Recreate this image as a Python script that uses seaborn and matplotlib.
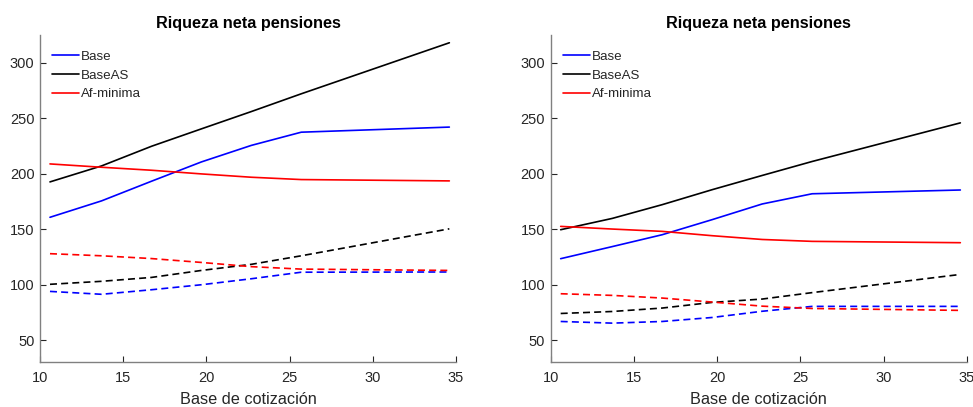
import numpy as np
import pandas as pd
import matplotlib
matplotlib.use("Agg")
import matplotlib.pyplot as plt
import seaborn as sns

# ---- data ----
x_vals = [10.6, 13.7, 16.7, 19.7, 22.7, 25.7, 34.6]
series_names = ["Base", "BaseAS", "Af-minima"]
series_colors = ["#0000FF", "#000000", "#FF0000"]

# left panel
left_base = [160.7, 175.5, 193.2, 210.6, 225.5, 237.4, 242.0]
left_baseas = [192.6, 207.0, 224.7, 240.4, 256.0, 272.0, 318.0]
left_afmin = [208.8, 205.8, 203.1, 199.8, 196.8, 194.7, 193.5]
left_base_d = [93.9, 91.3, 95.4, 99.9, 105.3, 111.2, 111.4]
left_baseas_d = [100.3, 103.0, 106.5, 112.8, 118.3, 126.0, 150.3]
left_afmin_d = [127.9, 126.0, 123.5, 120.0, 116.2, 114.0, 112.8]

# right panel
right_base = [123.4, 134.3, 145.0, 158.6, 172.7, 181.9, 185.3]
right_baseas = [149.5, 159.7, 172.1, 185.6, 198.4, 211.0, 245.8]
right_afmin = [152.5, 150.1, 148.0, 144.1, 140.7, 139.0, 137.8]
right_base_d = [66.8, 65.3, 66.8, 70.4, 76.0, 80.4, 80.4]
right_baseas_d = [74.0, 75.8, 78.9, 84.0, 87.0, 92.8, 109.2]
right_afmin_d = [91.8, 90.3, 87.9, 84.3, 80.6, 78.5, 76.8]

title_text = "Riqueza neta pensiones"
xlabel_text = "Base de cotizaci\u00f3n"
x_ticks = [10, 15, 20, 25, 30, 35]
y_ticks = [50, 100, 150, 200, 250, 300]


def build(solid, dashed):
    rows = []
    for name, vals in zip(series_names, solid):
        for xv, yv in zip(x_vals, vals):
            rows.append((xv, yv, name, "solid"))
    for name, vals in zip(series_names, dashed):
        for xv, yv in zip(x_vals, vals):
            rows.append((xv, yv, name, "dashed"))
    return pd.DataFrame(rows, columns=["x", "y", "series", "kind"])


df_left = build([left_base, left_baseas, left_afmin],
                [left_base_d, left_baseas_d, left_afmin_d])
df_right = build([right_base, right_baseas, right_afmin],
                 [right_base_d, right_baseas_d, right_afmin_d])

sns.set_style("ticks")
plt.rcParams["font.family"] = ["Liberation Sans", "DejaVu Sans"]
plt.rcParams["xtick.direction"] = "in"
plt.rcParams["ytick.direction"] = "in"

fig = plt.figure(figsize=(9.73, 4.07), dpi=100)
ax1 = fig.add_axes([40 / 973, 1 - 362.3 / 407, 416 / 973, 327.3 / 407])
ax2 = fig.add_axes([550.7 / 973, 1 - 362.3 / 407, 416.3 / 973, 327.3 / 407])

palette = dict(zip(series_names, series_colors))
axis_gray = "#262626"

for ax, df in [(ax1, df_left), (ax2, df_right)]:
    sns.lineplot(data=df[df["kind"] == "solid"], x="x", y="y", hue="series",
                 hue_order=series_names, palette=palette, ax=ax,
                 linewidth=1.2, estimator=None, sort=False)
    sns.lineplot(data=df[df["kind"] == "dashed"], x="x", y="y", hue="series",
                 hue_order=series_names, palette=palette, ax=ax,
                 linewidth=1.2, estimator=None, sort=False, legend=False,
                 linestyle=(0, (4.2, 2.5)))
    ax.set_xlim(10, 35)
    ax.set_ylim(30, 325)
    ax.set_xticks(x_ticks)
    ax.set_yticks(y_ticks)
    ax.tick_params(axis="both", labelsize=10.5, colors=axis_gray, length=4.5,
                   width=0.8, direction="in")
    ax.tick_params(axis="x", pad=6)
    ax.tick_params(axis="y", pad=4)
    for side in ["top", "right"]:
        ax.spines[side].set_visible(False)
    for side in ["left", "bottom"]:
        ax.spines[side].set_color("#808080")
        ax.spines[side].set_linewidth(1.0)
    ax.set_title(title_text, fontsize=11.7, fontweight="bold", pad=5,
                 color="black")
    ax.set_xlabel(xlabel_text, fontsize=11.7, color=axis_gray, labelpad=5)
    ax.set_ylabel("")
    ax.legend(loc="upper left", frameon=False, fontsize=9.6,
              handlelength=2.0, handletextpad=0.15, labelspacing=0.48,
              borderaxespad=0.3, bbox_to_anchor=(0.007, 0.981))

fig.savefig("out.png", dpi=100)
